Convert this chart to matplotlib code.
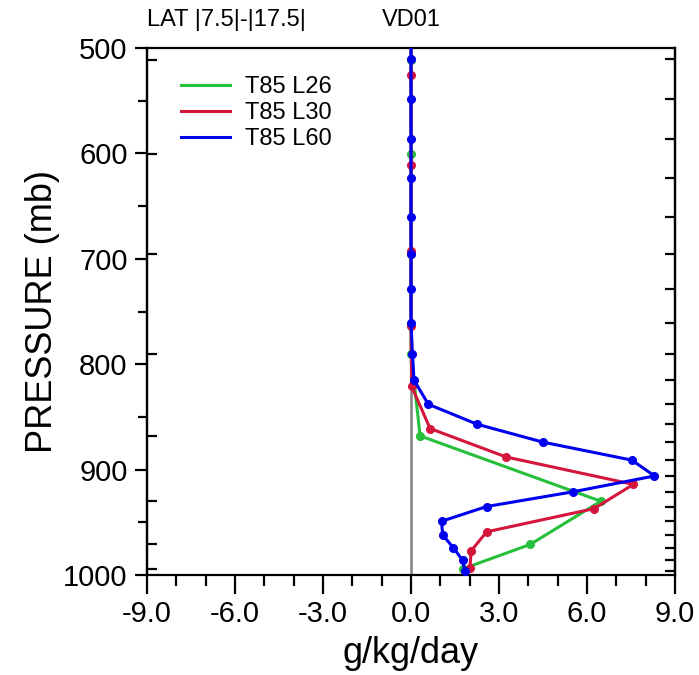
import numpy as np
import matplotlib
matplotlib.use("Agg")
import matplotlib.pyplot as plt
from matplotlib.ticker import MultipleLocator, NullFormatter

plt.rcParams['font.family'] = ['Liberation Sans', 'DejaVu Sans']

# ---- DATA ----
# T85 L26
p_l26 = [420, 511, 601, 695, 790, 868, 930, 971, 994]
q_l26 = [0.0, 0.0, 0.0, 0.0, 0.0, 0.31, 6.47, 4.06, 1.78]
# T85 L30
p_l30 = [440, 526, 611, 693, 764, 821, 861, 888, 914, 937, 959, 977, 993]
q_l30 = [0.0, 0.0, 0.0, 0.0, 0.0, 0.02, 0.65, 3.24, 7.58, 6.24, 2.58, 2.05, 2.01]
# T85 L60
p_l60 = [470, 510, 548, 586, 623, 660, 695, 729, 761, 790, 815, 838, 857, 874,
         891, 906, 921, 935, 949, 962, 974, 986, 996]
q_l60 = [0.0, 0.0, 0.0, 0.0, 0.0, 0.0, 0.0, 0.0, 0.0, 0.05, 0.1, 0.59, 2.26, 4.51,
         7.53, 8.30, 5.53, 2.58, 1.04, 1.08, 1.44, 1.76, 1.84]

series_labels = ["T85 L26", "T85 L30", "T85 L60"]
series_colors = ["#26c03a", "#d4163c", "#0000f0"]

x_ticks = [-9.0, -6.0, -3.0, 0.0, 3.0, 6.0, 9.0]
y_ticks = [500, 600, 700, 800, 900, 1000]

# ---- FIGURE ----
fig = plt.figure(figsize=(6.99, 6.75), dpi=100)
ax = fig.add_axes([0.2103, 0.1481, 0.7554, 0.7808])

ax.axvline(0.0, color="#808080", lw=1.8, zorder=1)

for p, q, lab, col in zip([p_l26, p_l30, p_l60], [q_l26, q_l30, q_l60],
                          series_labels, series_colors):
    ax.plot(q, p, color=col, lw=2.2, zorder=3, label=lab)
    ax.plot(q, p, 'o', color=col, ms=5.5, zorder=3)

ax.set_xlim(-9, 9)
ax.set_ylim(1000, 500)

for s in ax.spines.values():
    s.set_linewidth(1.6)

ax.set_xticks(x_ticks)
ax.set_xticklabels([f"{v:.1f}" for v in x_ticks])
ax.xaxis.set_minor_locator(MultipleLocator(1.0))
ax.set_yticks(y_ticks)
ax.yaxis.set_minor_locator(MultipleLocator(50))

ax.tick_params(axis="x", which="major", direction="out", length=14, width=1.6,
               labelsize=21, pad=4)
ax.tick_params(axis="x", which="minor", direction="out", length=8, width=1.6)
ax.tick_params(axis="y", which="major", direction="out", length=9, width=1.6,
               labelsize=21, pad=5, right=False)
ax.tick_params(axis="y", which="minor", direction="out", length=6.5, width=1.6,
               right=False)

# inside ticks at model levels
sec_l = ax.secondary_yaxis("left")
sec_l.set_yticks([v for v in p_l26 if 500 <= v <= 1000])
sec_l.yaxis.set_major_formatter(NullFormatter())
sec_l.tick_params(direction="in", length=7, width=1.6)
sec_l.spines["left"].set_linewidth(1.6)

sec_r = ax.secondary_yaxis("right")
sec_r.set_yticks([v for v in p_l60 if 500 <= v <= 1000])
sec_r.yaxis.set_major_formatter(NullFormatter())
sec_r.tick_params(direction="in", length=7, width=1.6)
sec_r.spines["right"].set_linewidth(1.6)

ax.set_xlabel("g/kg/day", fontsize=26)
ax.xaxis.set_label_coords(0.5, -0.115)
ax.set_ylabel("PRESSURE (mb)", fontsize=26, va="center")
ax.yaxis.set_label_coords(-0.198, 0.5)

ax.legend(loc="upper left", bbox_to_anchor=(0.064, 0.947), frameon=False,
          fontsize=17, handlelength=2.1, handletextpad=0.6, labelspacing=0.18,
          borderpad=0, borderaxespad=0)

fig.text(0.2103, 0.970, "LAT |7.5|-|17.5|", fontsize=17, ha="left", va="center")
fig.text(0.588, 0.970, "VD01", fontsize=17, ha="center", va="center")

plt.savefig("out.png", dpi=100)
